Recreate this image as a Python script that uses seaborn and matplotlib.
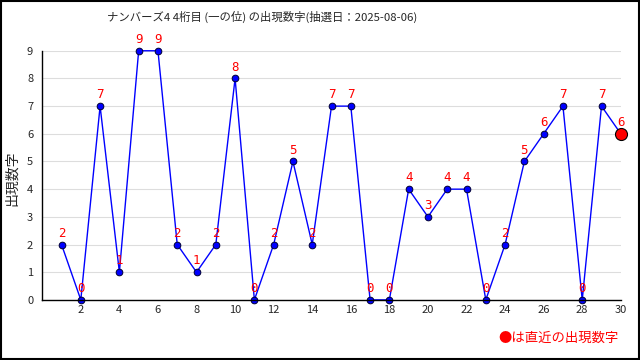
import matplotlib
matplotlib.use('Agg')
import matplotlib.pyplot as plt
import seaborn as sns
import pandas as pd

# 抽選回 (1..30) and 4桁目の出現数字
draws = list(range(1, 31))
digits = [2, 0, 7, 1, 9, 9, 2, 1, 2, 8, 0, 2, 5, 2, 7, 7, 0, 0, 4, 3,
          4, 4, 0, 2, 5, 6, 7, 0, 7, 6]
title = 'ナンバーズ4 4桁目 (一の位) の出現数字(抽選日：2025-08-06)'
ylabel = '出現数字'
note = '●は直近の出現数字'

df = pd.DataFrame({'draw': draws, 'digit': digits})

sns.set_style('white')
plt.rcParams['font.family'] = ['Noto Sans CJK JP', 'DejaVu Sans']

fig = plt.figure(figsize=(6.4, 3.6), dpi=100)
ax = fig.add_axes([0.066, 0.167, 0.904, 0.692])

sns.lineplot(data=df, x='draw', y='digit', ax=ax, color='#0000ff', lw=1,
             marker='o', markersize=4.8, markerfacecolor='#0000ff',
             markeredgecolor='#000033', markeredgewidth=0.7, clip_on=False)
last = df.iloc[[-1]]
sns.scatterplot(data=last, x='draw', y='digit', ax=ax, s=75, color='#ff0000',
                edgecolor='black', linewidth=0.8, zorder=5, clip_on=False)

for d, v in zip(draws, digits):
    ax.annotate(str(v), (d, v), xytext=(0, 3.5), textcoords='offset points',
                ha='center', va='bottom', color='red', fontsize=9,
                family='DejaVu Sans Mono', zorder=6)

ax.set_xlim(0, 30)
ax.set_ylim(0, 9)
ax.set_xticks(range(1, 31), minor=True)
ax.set_xticks(range(2, 31, 2))
ax.set_yticks(range(0, 10))
ax.tick_params(axis='both', which='both', direction='in', length=4, labelsize=8)
ax.tick_params(axis='y', direction='out', length=3)
ax.grid(axis='y', color='#dddddd', lw=0.8)
ax.set_axisbelow(True)
for s in ['top', 'right']:
    ax.spines[s].set_visible(False)
for s in ['left', 'bottom']:
    ax.spines[s].set_color('black')
    ax.spines[s].set_linewidth(1)
ax.set_xlabel('')
ax.set_ylabel(ylabel, fontsize=10)
ax.yaxis.set_label_coords(-0.041, 0.49)

fig.text(0.167, 0.953, title, ha='left', va='center', fontsize=8.2)
fig.text(0.966, 0.063, note, ha='right', va='center', color='red', fontsize=9.6)
fig.patches.append(plt.Rectangle((0.001, 0.002), 0.997, 0.996, transform=fig.transFigure,
                                 fill=False, edgecolor='black', lw=1.5))

fig.savefig('out.png', dpi=100)
